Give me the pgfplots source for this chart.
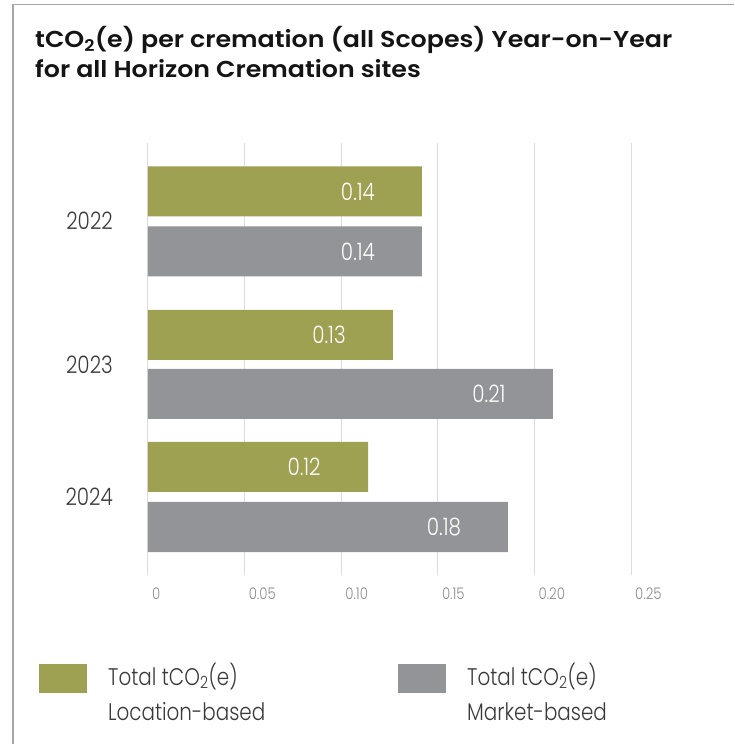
\documentclass[border=0pt]{standalone}
\usepackage{fontspec}
\setmainfont{Poppins Light}[FakeStretch=0.83]
\newfontfamily\titlefont{Poppins SemiBold}[FakeStretch=1.1]
\usepackage{pgfplots}
\pgfplotsset{compat=1.18}

\definecolor{locgreen}{HTML}{9EA052}
\definecolor{mktgray}{HTML}{939498}
\definecolor{gridgray}{HTML}{DCDCDC}
\definecolor{framegray}{HTML}{A6A6A6}
\definecolor{ticktext}{HTML}{8C8C8C}
\definecolor{darktext}{HTML}{3A3A3A}

\begin{document}
\begin{tikzpicture}
\begin{axis}[
  name=ax,
  scale only axis, width=483pt, height=432pt,
  xmin=0, xmax=0.25, ymin=169, ymax=601,
  xbar, bar width=50, bar shift=0pt,
  axis line style={draw=none},
  major tick length=0pt,
  xtick={0,0.05,0.1,0.15,0.2,0.25},
  xticklabels={0,0.05,0.10,0.15,0.20,0.25},
  xmajorgrids, grid style={gridgray, line width=1pt},
  xticklabel style={anchor=north west, inner sep=0pt, xshift=4pt, yshift=-13pt,
                    font=\fontsize{16}{16}\selectfont, text=ticktext},
  ytick={523,379.5,247}, yticklabels={2022,2023,2024},
  yticklabel style={anchor=east, inner sep=0pt, xshift=-35pt,
                    font=\fontsize{24}{24}\selectfont, text=darktext},
  nodes near coords, point meta=explicit symbolic,
  every node near coord/.append style={anchor=center, xshift=-64pt,
                    text=white, font=\fontsize{24}{24}\selectfont},
]
% Location-based
\addplot[fill=locgreen, draw=none] coordinates {
  (0.1418,552.5) [0.14]
  (0.1268,409)   [0.13]
  (0.1139,277)   [0.12]
};
% Market-based
\addplot[fill=mktgray, draw=none] coordinates {
  (0.1418,492.5) [0.14]
  (0.2096,350)   [0.21]
  (0.1863,217)   [0.18]
};
\end{axis}

% page coordinates: 1pt = 1px of the reference, origin at bottom left
\begin{scope}[x=1pt, y=1pt, shift={(ax.south west)}, xshift=-148pt, yshift=-169pt]
\useasboundingbox (0,0) rectangle (734,744);
\draw[framegray, line width=1.5pt] (13,0) -- (13,739.5) -- (734,739.5);

% title
\node[anchor=base west, inner sep=0pt, text=black!92,
      font=\titlefont\fontsize{23}{30}\selectfont] at (35,696)
  {tCO\textsubscript{2}(e) per cremation (all Scopes) Year-on-Year};
\node[anchor=base west, inner sep=0pt, text=black!92,
      font=\titlefont\fontsize{23}{30}\selectfont] at (35,666)
  {for all Horizon Cremation sites};

% legend
\fill[locgreen] (39,51) rectangle (87,80);
\node[anchor=base west, inner sep=0pt, text=darktext,
      font=\fontsize{24}{24}\selectfont] at (108,59) {Total tCO\textsubscript{2}(e)};
\node[anchor=base west, inner sep=0pt, text=darktext,
      font=\fontsize{24}{24}\selectfont] at (108,24) {Location-based};
\fill[mktgray] (398,51) rectangle (446,80);
\node[anchor=base west, inner sep=0pt, text=darktext,
      font=\fontsize{24}{24}\selectfont] at (467,59) {Total tCO\textsubscript{2}(e)};
\node[anchor=base west, inner sep=0pt, text=darktext,
      font=\fontsize{24}{24}\selectfont] at (467,24) {Market-based};
\end{scope}
\end{tikzpicture}
\end{document}
